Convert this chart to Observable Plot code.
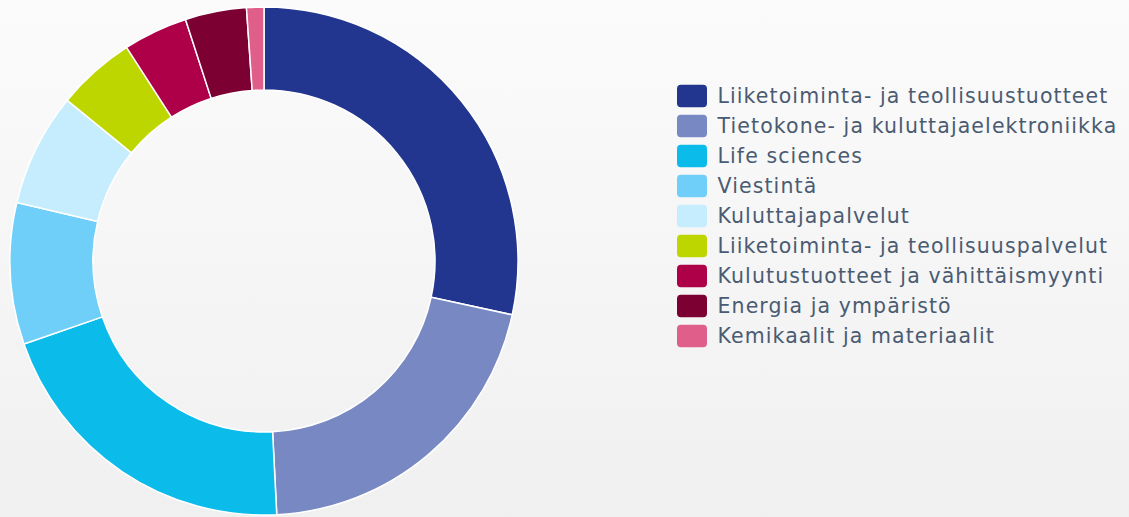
<!DOCTYPE html>
<html>
<head>
<meta charset="utf-8">
<script src="https://cdn.jsdelivr.net/npm/d3@7"></script>
<script src="https://cdn.jsdelivr.net/npm/@observablehq/plot@0.6"></script>
<style>
  html, body { margin: 0; padding: 0; }
  body {
    width: 1129px; height: 517px; overflow: hidden;
    background: linear-gradient(to bottom, #fbfbfb 0%, #f0f0f0 100%);
  }
  #chart svg { display: block; background: transparent; }
  #chart svg text { letter-spacing: 1.1px; }
</style>
</head>
<body>
<div id="chart"></div>
<script>
// Sectors (clockwise from 12 o'clock) and their shares (%)
const categories = [
  "Liiketoiminta- ja teollisuustuotteet",
  "Tietokone- ja kuluttajaelektroniikka",
  "Life sciences",
  "Viestintä",
  "Kuluttajapalvelut",
  "Liiketoiminta- ja teollisuuspalvelut",
  "Kulutustuotteet ja vähittäismyynti",
  "Energia ja ympäristö",
  "Kemikaalit ja materiaalit"
];
const shares = [28.4, 20.8, 20.5, 9.0, 7.2, 5.0, 4.1, 3.9, 1.1];
const colors = [
  "#22368f", "#7888c3", "#0bbbea", "#6fcff8", "#c5edfd",
  "#bed600", "#ae0049", "#7c0031", "#e05f8a"
];

const data = categories.map((c, i) => ({category: c, share: shares[i]}));

const W = 1129, H = 517;
const cx = 264, cy = 261, rOuter = 254, rInner = 171;

function donut(index, scales) {
  const color = typeof scales.color === "function"
    ? scales.color
    : (c) => Plot.scale({color: {domain: categories, range: colors}}).apply(c);
  const pie = d3.pie().sort(null).value(d => d.share);
  const arc = d3.arc().innerRadius(rInner).outerRadius(rOuter);
  const g = d3.create("svg:g").attr("transform", `translate(${cx},${cy})`);
  g.selectAll("path")
    .data(pie(data))
    .join("path")
    .attr("d", arc)
    .attr("fill", d => color(d.data.category))
    .attr("stroke", "#ffffff")
    .attr("stroke-width", 1.5)
    .attr("stroke-linejoin", "round");
  return g.node();
}

const plot = Plot.plot({
  width: W,
  height: H,
  margin: 0,
  style: {background: "transparent", fontFamily: "'DejaVu Sans', sans-serif"},
  x: {type: "band", domain: ["swatch"], range: [677, 707], padding: 0, axis: null},
  y: {type: "band", domain: categories, range: [78, 353.5], padding: 0, axis: null},
  color: {domain: categories, range: colors},
  marks: [
    donut,
    Plot.cell(categories, {
      x: () => "swatch", y: d => d, fill: d => d,
      insetTop: 3.8, insetBottom: 3.8, rx: 4
    }),
    Plot.text(categories, {
      x: () => "swatch", y: d => d, text: d => d,
      textAnchor: "start", dx: 25, dy: 0,
      fill: "#4a5b72", fontSize: 20.5
    })
  ]
});
document.getElementById("chart").appendChild(plot);
</script>
</body>
</html>
